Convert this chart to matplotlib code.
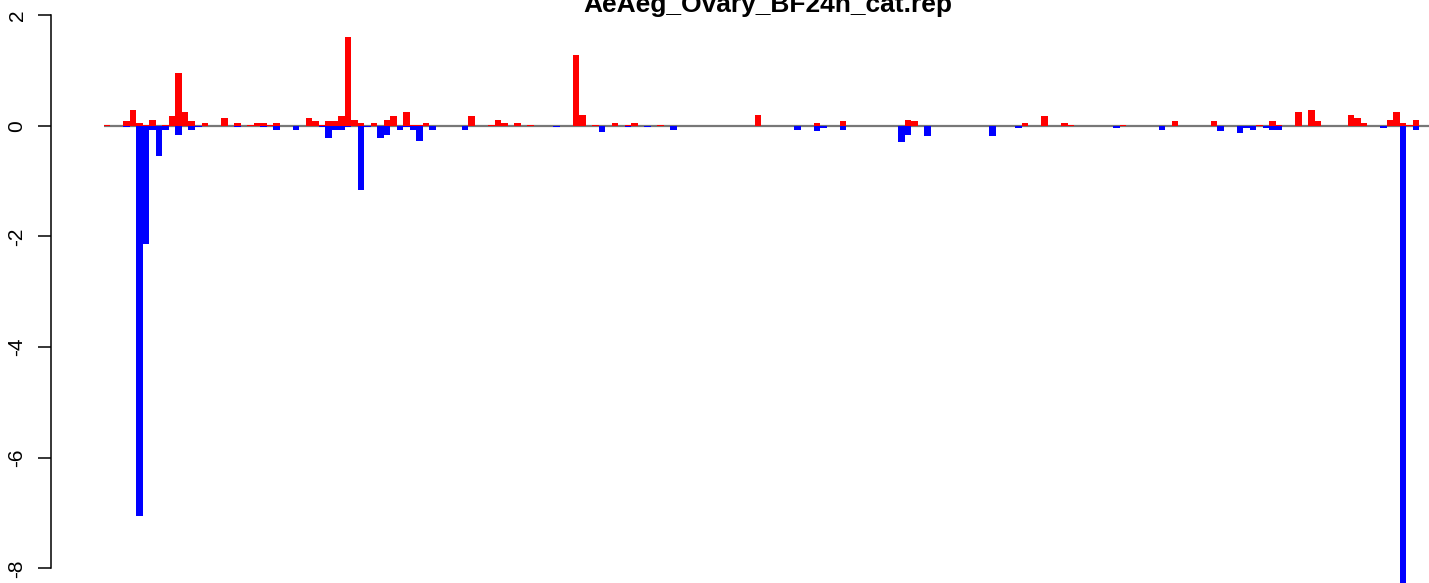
import matplotlib
matplotlib.use("Agg")
import numpy as np
from matplotlib import pyplot as plt

plt.rcParams['font.family'] = ['Liberation Sans', 'DejaVu Sans']

title = 'AeAeg_Ovary_BF24h_cat.rep'

# per-repeat log ratios, up (red) and down (blue), 204 repeat classes
up = [0.02, 0, 0, 0.09, 0.29, 0.05, 0.02, 0.11, 0, 0.02, 0.18, 0.96,
      0.24, 0.09, 0, 0.05, 0, 0, 0.14, 0, 0.05, 0, 0.02, 0.05,
      0.05, 0.02, 0.05, 0, 0, 0, 0, 0.14, 0.09, 0.02, 0.09, 0.09,
      0.18, 1.61, 0.11, 0.05, 0, 0.05, 0, 0.11, 0.18, 0, 0.24, 0.02,
      0.02, 0.05, 0, 0, 0, 0, 0, 0, 0.18, 0, 0, 0.02,
      0.11, 0.05, 0, 0.05, 0, 0.02, 0, 0, 0, 0, 0, 0,
      1.28, 0.20, 0, 0.02, 0, 0, 0.05, 0, 0.02, 0.05, 0, 0,
      0, 0.02, 0, 0, 0, 0, 0, 0, 0, 0, 0, 0,
      0, 0, 0, 0, 0.20, 0, 0, 0, 0, 0, 0, 0,
      0, 0.05, 0, 0, 0, 0.09, 0, 0, 0, 0, 0, 0,
      0, 0, 0, 0.11, 0.09, 0, 0, 0, 0, 0, 0, 0,
      0, 0, 0, 0, 0, 0, 0, 0, 0, 0.05, 0, 0,
      0.18, 0, 0, 0.05, 0.02, 0, 0, 0, 0, 0, 0, 0,
      0.02, 0, 0, 0, 0, 0, 0, 0, 0.09, 0, 0, 0,
      0, 0, 0.09, 0, 0, 0, 0, 0, 0, 0.02, 0, 0.09,
      0.02, 0, 0, 0.24, 0, 0.29, 0.09, 0, 0, 0, 0, 0.20,
      0.14, 0.05, 0, 0, 0, 0.11, 0.25, 0.05, 0.02, 0.11, 0, 0]

down = [0, 0, 0, -0.03, 0, -7.05, -2.14, -0.07, -0.55, -0.08, 0, -0.17,
        0, -0.07, -0.03, 0, 0, 0, 0, 0, -0.03, 0, 0, 0,
        -0.03, 0, -0.08, 0, 0, -0.07, 0, 0, 0, -0.03, -0.23, -0.07,
        -0.08, -0.03, 0, -1.17, -0.03, 0, -0.23, -0.17, 0, -0.07, -0.03, -0.07,
        -0.27, 0, -0.08, 0, 0, 0, 0, -0.07, 0, 0, 0, 0,
        0, 0, 0, 0, 0, 0, 0, 0, 0, -0.03, 0, 0,
        0, 0, 0, 0, -0.12, 0, 0, 0, -0.03, 0, 0, -0.03,
        0, 0, 0, -0.07, 0, 0, 0, 0, 0, 0, 0, 0,
        0, 0, 0, 0, 0, 0, 0, 0, 0, 0, -0.07, 0,
        0, -0.09, -0.04, 0, 0, -0.07, 0, 0, 0, 0, 0, 0,
        0, 0, -0.30, -0.16, 0, 0, -0.18, 0, 0, 0, 0, 0,
        0, 0, 0, 0, -0.18, 0, 0, 0, -0.04, 0, 0, 0,
        0, 0, 0, 0, 0, 0, 0, 0, 0, 0, 0, -0.04,
        0, 0, 0, 0, 0, 0, -0.07, 0, 0, 0, 0, 0,
        0, 0, 0, -0.09, 0, 0, -0.13, -0.04, -0.07, 0, -0.04, -0.07,
        -0.07, 0, 0, 0, 0, 0, 0, 0, 0, 0, 0, 0,
        0, 0, 0, 0, -0.04, 0, 0, -8.5, 0, -0.07, 0, 0]

yticks = [2, 0, -2, -4, -6, -8]
ylabels = ['2', '0', '-2', '-4', '-6', '-8']

W, H = 1429, 583
fig = plt.figure(figsize=(W / 100, H / 100), dpi=100)
# R-style plot region: wider than the picture, right part is cut off
ax = fig.add_axes([50.7 / W, 0, 1434.6 / W, 1])

n = len(up)
x = np.arange(n)
ax.hlines(0, 0, n, color='#777777', lw=1.6, zorder=1)
ax.bar(x, up, width=1, align='edge', color='#ff0000', linewidth=0, zorder=2)
ax.bar(x, down, width=1, align='edge', color='#0000ff', linewidth=0, zorder=2)

ax.set_xlim(-0.04 * n, 1.04 * n)
ax.set_ylim(-(H - 126) / 55.3, 2 + 15 / 55.3)

for s in ['top', 'right', 'bottom']:
    ax.spines[s].set_visible(False)
ax.spines['left'].set_bounds(-8, 2)
ax.spines['left'].set_linewidth(1.1)
ax.set_xticks([])
ax.set_yticks(yticks)
ax.set_yticklabels(ylabels, rotation=90, va='center', fontsize=15)
ax.tick_params(axis='y', length=9.4, width=1.1, pad=8)

fig.text(768 / W, 1 - 12 / H, title, ha='center', va='baseline',
         fontsize=19, fontweight='bold')

fig.savefig('out.png', dpi=100)
